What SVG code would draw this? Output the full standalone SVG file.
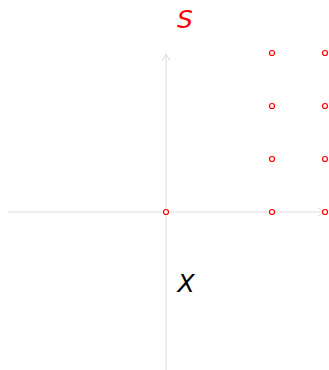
<svg xmlns="http://www.w3.org/2000/svg" width="329" height="370" viewBox="0 0 329 370">
<style>
.axis{stroke:#dcdcdc;stroke-width:1;fill:none}
.pt{fill:#fff;stroke:#f00;stroke-width:1.2}
.lbl{font-family:"DejaVu Sans",sans-serif;font-style:oblique;font-size:25px;text-anchor:middle}
</style>
<defs>
<marker id="ah" markerWidth="10" markerHeight="10" refX="8" refY="5" orient="auto" markerUnits="userSpaceOnUse">
<path d="M1,1 L8,5 L1,9" fill="none" stroke="#dcdcdc" stroke-width="1"/>
</marker>
</defs>
<g id="connectors">
<line class="axis" x1="8" y1="212" x2="325" y2="212" marker-end="url(#ah)"/>
<line class="axis" x1="166" y1="370" x2="166" y2="54" marker-end="url(#ah)"/>
</g>
<g id="label-S"><text class="lbl" x="185" y="28" fill="#f00">S</text></g>
<g id="label-X"><text class="lbl" x="186" y="292" fill="#000">X</text></g>
<g id="points">
<circle class="pt" cx="166" cy="212" r="2.5"/>
<circle class="pt" cx="272" cy="53" r="2.5"/>
<circle class="pt" cx="325" cy="53" r="2.5"/>
<circle class="pt" cx="272" cy="106" r="2.5"/>
<circle class="pt" cx="325" cy="106" r="2.5"/>
<circle class="pt" cx="272" cy="159" r="2.5"/>
<circle class="pt" cx="325" cy="159" r="2.5"/>
<circle class="pt" cx="272" cy="212" r="2.5"/>
<circle class="pt" cx="325" cy="212" r="2.5"/>
</g>
</svg>
